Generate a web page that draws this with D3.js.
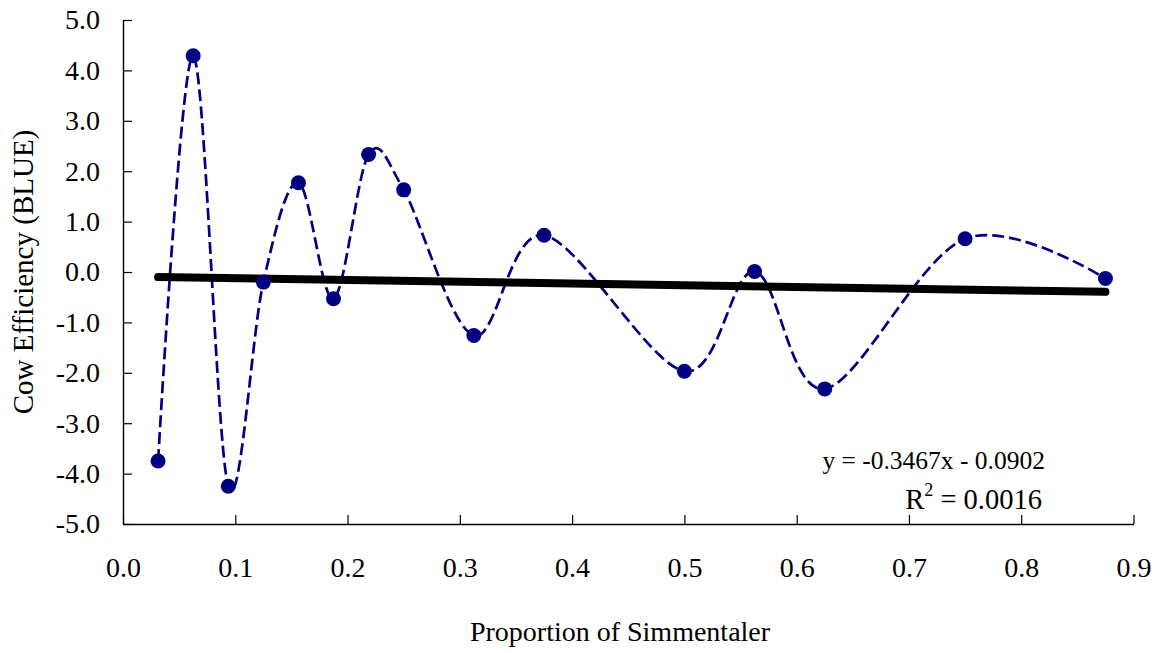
<!DOCTYPE html>
<html>
<head>
<meta charset="utf-8">
<script src="https://cdn.jsdelivr.net/npm/d3@7/dist/d3.min.js"></script>
<style>
  html, body { margin: 0; padding: 0; background: #fff; }
  svg { display: block; }
  text { font-family: "Liberation Serif", "Times New Roman", serif; fill: #000; }
</style>
</head>
<body>
<svg id="chart" width="1159" height="653"></svg>
<script>
// ---- data ----
const proportion = [0.03125, 0.0625, 0.09375, 0.125, 0.15625, 0.1875, 0.21875, 0.25, 0.3125, 0.375, 0.5, 0.5625, 0.625, 0.75, 0.875];
const efficiency = [-3.75, 4.29, -4.25, -0.20, 1.77, -0.53, 2.33, 1.63, -1.26, 0.73, -1.97, 0.01, -2.32, 0.66, -0.13];
const xTicks = [0, 0.1, 0.2, 0.3, 0.4, 0.5, 0.6, 0.7, 0.8, 0.9];
const yTicks = [-5, -4, -3, -2, -1, 0, 1, 2, 3, 4, 5];
const trendSlope = -0.3467;
const trendIntercept = -0.0902;
const eqLabel = "y = -0.3467x - 0.0902";
const r2Value = "0.0016";
const xTitle = "Proportion of Simmentaler";
const yTitle = "Cow Efficiency (BLUE)";

// ---- layout ----
const W = 1159, H = 653;
const m = { left: 123, right: 25.5, top: 20, bottom: 129 };
const svg = d3.select("#chart");

const x = d3.scaleLinear().domain([0, 0.9]).range([m.left, W - m.right]);
const y = d3.scaleLinear().domain([-5, 5]).range([H - m.bottom, m.top]);

const fmt = d => d3.format(".1f")(d).replace("\u2212", "-");

// axes
const xAxis = d3.axisBottom(x).tickValues(xTicks).tickFormat(fmt)
  .tickSizeInner(-9).tickSizeOuter(0).tickPadding(33);
const yAxis = d3.axisLeft(y).tickValues(yTicks).tickFormat(fmt)
  .tickSizeInner(-9).tickSizeOuter(0).tickPadding(23);

const gx = svg.append("g").attr("transform", `translate(0,${y(-5)})`).call(xAxis);
const gy = svg.append("g").attr("transform", `translate(${x(0)},0)`).call(yAxis);
[gx, gy].forEach(g => {
  g.selectAll("path.domain").attr("stroke", "#000").attr("stroke-width", 1.4);
  g.selectAll(".tick line").attr("stroke", "#000").attr("stroke-width", 1.2);
  g.selectAll(".tick text").attr("font-size", 28).attr("font-family", "Liberation Serif").attr("fill", "#000");
});

// smoothed dashed series
const pts = proportion.map((p, i) => [p, efficiency[i]]);
const line = d3.line().x(d => x(d[0])).y(d => y(d[1])).curve(d3.curveCardinal.tension(0));
svg.append("path").datum(pts).attr("d", line)
  .attr("fill", "none").attr("stroke", "#000080").attr("stroke-width", 2.7)
  .attr("stroke-dasharray", "12,5");

// trend line
const x0 = d3.min(proportion), x1 = d3.max(proportion);
svg.append("line")
  .attr("x1", x(x0)).attr("y1", y(trendSlope * x0 + trendIntercept))
  .attr("x2", x(x1)).attr("y2", y(trendSlope * x1 + trendIntercept))
  .attr("stroke", "#000").attr("stroke-width", 8).attr("stroke-linecap", "round");

// markers
svg.append("g").selectAll("circle").data(pts).join("circle")
  .attr("cx", d => x(d[0])).attr("cy", d => y(d[1])).attr("r", 7.5)
  .attr("fill", "#000080");

// equation
svg.append("text").attr("x", 1045).attr("y", 469).attr("text-anchor", "end")
  .attr("font-size", 25.5).text(eqLabel);
const r2 = svg.append("text").attr("x", 1042).attr("y", 509).attr("text-anchor", "end")
  .attr("font-size", 28.5);
r2.append("tspan").text("R");
r2.append("tspan").attr("font-size", 18).attr("dy", -13).text("2");
r2.append("tspan").attr("dy", 13).text(" = " + r2Value);

// axis titles
svg.append("text").attr("x", 620).attr("y", 641).attr("text-anchor", "middle")
  .attr("font-size", 28).text(xTitle);
svg.append("text").attr("transform", `translate(33,${y(0)}) rotate(-90)`)
  .attr("text-anchor", "middle").attr("font-size", 29).text(yTitle);
</script>
</body>
</html>
